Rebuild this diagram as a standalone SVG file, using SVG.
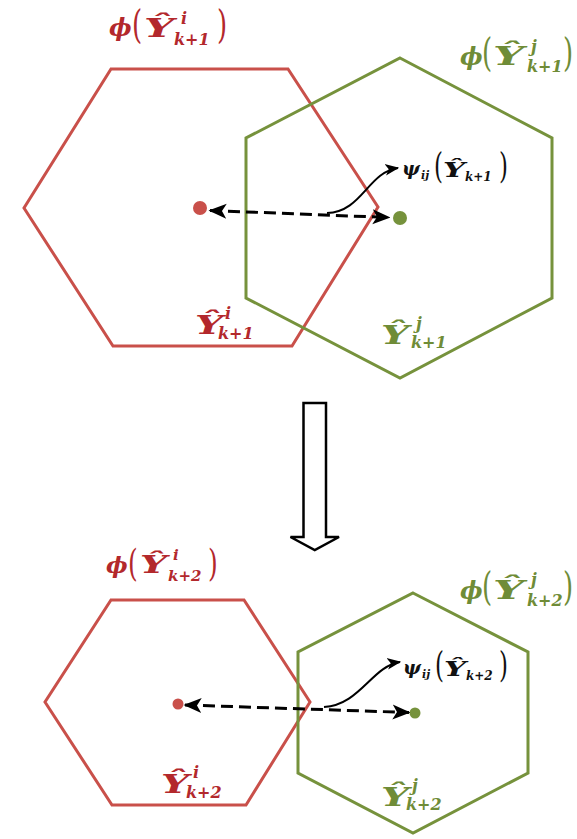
<svg xmlns="http://www.w3.org/2000/svg" width="577" height="839" viewBox="0 0 577 839">
<style>
.hr{fill:none;stroke:#c9504a;stroke-width:3;stroke-linejoin:miter}
.hg{fill:none;stroke:#76923c;stroke-width:3;stroke-linejoin:miter}
.m{font-family:"DejaVu Serif","Liberation Serif",serif;font-weight:bold;font-style:italic}
.p{font-family:"DejaVu Serif","Liberation Serif",serif;font-weight:normal;font-style:normal}
.r{fill:#b3282c}
.g{fill:#6f8c37}
.k{fill:#111}
.dash{fill:none;stroke:#000;stroke-width:3;stroke-dasharray:12 6}
.cur{fill:none;stroke:#000;stroke-width:2}
</style>
<defs>
<marker id="ah" viewBox="0 0 12 10" refX="11" refY="5" markerWidth="6" markerHeight="5.5" orient="auto-start-reverse" markerUnits="strokeWidth">
<path d="M0,0 L12,5 L0,10 L3,5 z" fill="#000"/>
</marker>
<marker id="ah2" viewBox="0 0 12 10" refX="11" refY="5" markerWidth="7" markerHeight="7" orient="auto" markerUnits="strokeWidth">
<path d="M0,0 L12,5 L0,10 L3,5 z" fill="#000"/>
</marker>
</defs>
<rect width="577" height="839" fill="#fff"/>

<!-- top row -->
<g id="hexRed1">
<polygon class="hr" points="111,69 288,69 378,207 292,346 113,346 24,208"/>
<circle cx="200" cy="208" r="7" fill="#c9504a"/>
</g>
<g id="hexGreen1">
<polygon class="hg" points="400,58 552,138 552,298 400,378 246,298 246,138"/>
<circle cx="400" cy="218" r="7" fill="#76923c"/>
</g>

<g id="labelPhiRed1">
<text class="m r" x="109" y="36" font-size="24">ϕ</text>
<text class="p r" font-size="26" transform="translate(132,38) scale(1,1.5)">(</text>
<text class="m r" x="144" y="37" font-size="26" textLength="30" lengthAdjust="spacingAndGlyphs">Ŷ</text>
<text class="m r" x="181" y="24" font-size="16">i</text>
<text class="m r" x="174" y="45" font-size="16">k+1</text>
<text class="p r" font-size="26" transform="translate(217,38) scale(1,1.5)">)</text>
</g>
<g id="labelPhiGreen1">
<text class="m g" x="460" y="65" font-size="24">ϕ</text>
<text class="p g" font-size="26" transform="translate(482,66) scale(1,1.5)">(</text>
<text class="m g" x="493" y="65" font-size="26" textLength="31" lengthAdjust="spacingAndGlyphs">Ŷ</text>
<text class="m g" x="531" y="52" font-size="16">j</text>
<text class="m g" x="527" y="72" font-size="16">k+1</text>
<text class="p g" font-size="26" transform="translate(563,66) scale(1,1.5)">)</text>
</g>
<g id="labelYRed1">
<text class="m r" x="195" y="334" font-size="26" textLength="28" lengthAdjust="spacingAndGlyphs">Ŷ</text>
<text class="m r" x="225" y="319" font-size="16">i</text>
<text class="m r" x="218" y="339" font-size="16">k+1</text>
</g>
<g id="labelYGreen1">
<text class="m g" x="381" y="344" font-size="26" textLength="28" lengthAdjust="spacingAndGlyphs">Ŷ</text>
<text class="m g" x="416" y="329" font-size="16">j</text>
<text class="m g" x="411" y="348" font-size="16">k+1</text>
</g>
<g id="labelPsi1">
<text class="m k" x="402" y="175" font-size="19">ψ</text>
<text class="m k" x="421" y="179" font-size="11">ij</text>
<text class="p k" font-size="23" transform="translate(434,178) scale(1,1.55)">(</text>
<text class="m k" x="443" y="177" font-size="21" textLength="22" lengthAdjust="spacingAndGlyphs">Ŷ</text>
<text class="m k" x="465" y="181" font-size="12">k+1</text>
<text class="p k" font-size="23" transform="translate(499,178) scale(1,1.55)">)</text>
</g>

<!-- transition arrow -->
<g id="downArrow">
<polygon points="303.5,403 326,403 326,537 339,537 314.75,550 290.5,537 303.5,537" fill="#fff" stroke="#000" stroke-width="2.5" stroke-linejoin="miter"/>
</g>

<!-- bottom row -->
<g id="hexRed2">
<polygon class="hr" points="111,600 244,600 310,702 246,805 112,805 45,702"/>
<circle cx="178" cy="704" r="5.5" fill="#c9504a"/>
</g>
<g id="hexGreen2">
<polygon class="hg" points="413,593 528,652 528,773 413,833 298,773 298,652"/>
<circle cx="415" cy="713" r="5.5" fill="#76923c"/>
</g>

<g id="labelPhiRed2">
<text class="m r" x="106" y="573" font-size="23">ϕ</text>
<text class="p r" font-size="25" transform="translate(128,576) scale(1,1.5)">(</text>
<text class="m r" x="140" y="573" font-size="25" textLength="27" lengthAdjust="spacingAndGlyphs">Ŷ</text>
<text class="m r" x="173" y="560" font-size="15">i</text>
<text class="m r" x="168" y="581" font-size="15">k+2</text>
<text class="p r" font-size="25" transform="translate(208,576) scale(1,1.5)">)</text>
</g>
<g id="labelPhiGreen2">
<text class="m g" x="460" y="599" font-size="24">ϕ</text>
<text class="p g" font-size="26" transform="translate(482,600) scale(1,1.5)">(</text>
<text class="m g" x="493" y="599" font-size="26" textLength="31" lengthAdjust="spacingAndGlyphs">Ŷ</text>
<text class="m g" x="531" y="585" font-size="16">j</text>
<text class="m g" x="527" y="606" font-size="16">k+2</text>
<text class="p g" font-size="26" transform="translate(563,600) scale(1,1.5)">)</text>
</g>
<g id="labelYRed2">
<text class="m r" x="161" y="793" font-size="26" textLength="28" lengthAdjust="spacingAndGlyphs">Ŷ</text>
<text class="m r" x="193" y="778" font-size="16">i</text>
<text class="m r" x="186" y="798" font-size="16">k+2</text>
</g>
<g id="labelYGreen2">
<text class="m g" x="381" y="806" font-size="26" textLength="28" lengthAdjust="spacingAndGlyphs">Ŷ</text>
<text class="m g" x="412" y="791" font-size="16">j</text>
<text class="m g" x="406" y="810" font-size="16">k+2</text>
</g>
<g id="labelPsi2">
<text class="m k" x="403" y="674" font-size="19">ψ</text>
<text class="m k" x="422" y="678" font-size="11">ij</text>
<text class="p k" font-size="23" transform="translate(435,677) scale(1,1.55)">(</text>
<text class="m k" x="444" y="676" font-size="21" textLength="22" lengthAdjust="spacingAndGlyphs">Ŷ</text>
<text class="m k" x="466" y="680" font-size="12">k+2</text>
<text class="p k" font-size="23" transform="translate(499,677) scale(1,1.55)">)</text>
</g>

<g id="connectors">
<path class="dash" d="M210,210.5 L389,217.5" marker-start="url(#ah)" marker-end="url(#ah)"/>
<path class="cur" d="M327,213 C362,212 368,172 398,168" marker-end="url(#ah2)"/>
<path class="dash" d="M185,705 L409,712.5" marker-start="url(#ah)" marker-end="url(#ah)"/>
<path class="cur" d="M324,707 C360,705 372,666 400,662" marker-end="url(#ah2)"/>
</g>
</svg>
